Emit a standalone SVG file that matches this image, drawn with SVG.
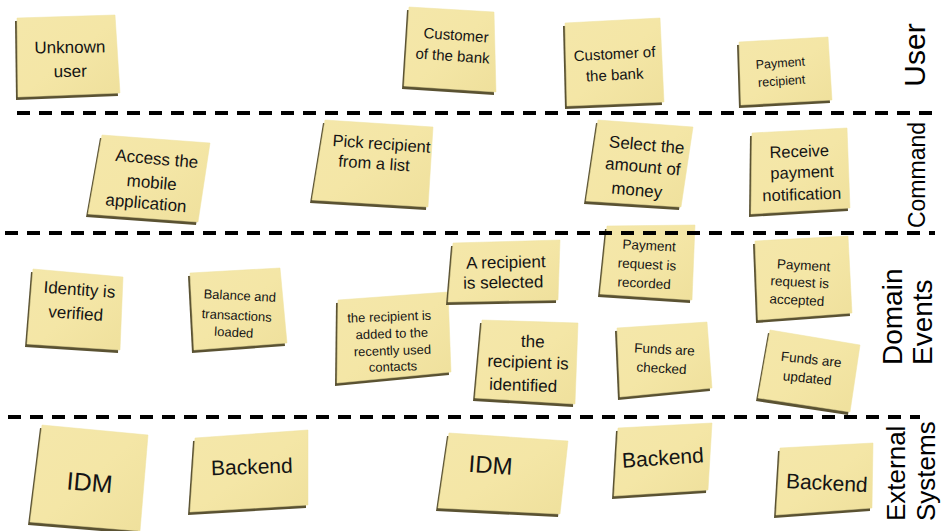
<svg xmlns="http://www.w3.org/2000/svg" width="952" height="531" viewBox="0 0 952 531">
<style>
.paper{fill:url(#pg);stroke:#efe3a0;stroke-width:0.5}
.shadow{fill:#5a5232}
.t{font-family:"Liberation Sans","DejaVu Sans",sans-serif;fill:#141414;text-anchor:middle}
.lane{font-family:"Liberation Sans",Arial,sans-serif;fill:#000}
.sep{stroke:#000;stroke-width:4;stroke-dasharray:13 9;fill:none}
</style>
<defs>
<linearGradient id="pg" x1="0" y1="0" x2="1" y2="1">
<stop offset="0" stop-color="#f4e7aa"/>
<stop offset="0.5" stop-color="#f4e6a6"/>
<stop offset="1" stop-color="#efe09c"/>
</linearGradient>
</defs>
<rect width="952" height="531" fill="#fff"/>

<g id="n1">
<polygon class="shadow" transform="translate(-2,3)" points="17,18 115,15 120,93 18,97"/>
<polygon class="paper" points="17,18 115,15 120,93 18,97"/>
<text class="t" font-size="17" transform="rotate(-1 68 56)"><tspan x="70" y="53">Unknown</tspan><tspan x="70" y="77">user</tspan></text>
</g>
<g id="n2">
<polygon class="shadow" transform="translate(-2,3)" points="409,7 494,12 496,92 404,86"/>
<polygon class="paper" points="409,7 494,12 496,92 404,86"/>
<text class="t" font-size="15" transform="rotate(4 452 50)"><tspan x="455" y="40">Customer</tspan><tspan x="453" y="61">of the bank</tspan></text>
</g>
<g id="n3">
<polygon class="shadow" transform="translate(-2,3)" points="565,23 660,18 664,102 567,106"/>
<polygon class="paper" points="565,23 660,18 664,102 567,106"/>
<text class="t" font-size="15" transform="rotate(-3 615 63)"><tspan x="615" y="59">Customer of</tspan><tspan x="614" y="80">the bank</tspan></text>
</g>
<g id="n4">
<polygon class="shadow" transform="translate(-2,3)" points="739,42 828,37 832,100 741,105"/>
<polygon class="paper" points="739,42 828,37 832,100 741,105"/>
<text class="t" font-size="12.5" transform="rotate(-4 785 72)"><tspan x="781" y="67">Payment</tspan><tspan x="781" y="85">recipient</tspan></text>
</g>

<g id="n5">
<polygon class="shadow" transform="translate(-2,3)" points="102,135 210,143 198,222 88,214"/>
<polygon class="paper" points="102,135 210,143 198,222 88,214"/>
<text class="t" font-size="17" transform="rotate(5 150 180)"><tspan x="155" y="164">Access the</tspan><tspan x="152" y="188">mobile</tspan><tspan x="148" y="209">application</tspan></text>
</g>
<g id="n6">
<polygon class="shadow" transform="translate(-2,3)" points="325,120 433,127 428,207 312,200"/>
<polygon class="paper" points="325,120 433,127 428,207 312,200"/>
<text class="t" font-size="16.5" transform="rotate(4 375 165)"><tspan x="380" y="149">Pick recipient</tspan><tspan x="374" y="169">from a list</tspan></text>
</g>
<g id="n7">
<polygon class="shadow" transform="translate(-2,3)" points="598,120 693,127 681,207 586,201"/>
<polygon class="paper" points="598,120 693,127 681,207 586,201"/>
<text class="t" font-size="17" transform="rotate(5 640 165)"><tspan x="645" y="150">Select the</tspan><tspan x="643" y="172">amount of</tspan><tspan x="639" y="196">money</tspan></text>
</g>
<g id="n8">
<polygon class="shadow" transform="translate(-2,3)" points="752,133 847,128 850,208 751,214"/>
<polygon class="paper" points="752,133 847,128 850,208 751,214"/>
<text class="t" font-size="16.5" transform="rotate(-2 800 172)"><tspan x="800" y="157">Receive</tspan><tspan x="802" y="178">payment</tspan><tspan x="801" y="200">notification</tspan></text>
</g>

<g id="n9">
<polygon class="shadow" transform="translate(-2,3)" points="33,269 123,277 120,350 27,344"/>
<polygon class="paper" points="33,269 123,277 120,350 27,344"/>
<text class="t" font-size="17" transform="rotate(4 75 310)"><tspan x="78" y="295">Identity is</tspan><tspan x="76" y="319">verified</tspan></text>
</g>
<g id="n10">
<polygon class="shadow" transform="translate(-2,3)" points="190,273 280,268 287,343 194,350"/>
<polygon class="paper" points="190,273 280,268 287,343 194,350"/>
<text class="t" font-size="13" transform="rotate(3 238 310)"><tspan x="239" y="300">Balance and</tspan><tspan x="237" y="320">transactions</tspan><tspan x="235" y="337">loaded</tspan></text>
</g>
<g id="n11">
<polygon class="shadow" transform="translate(-2,3)" points="338,300 448,292 451,372 337,383"/>
<polygon class="paper" points="338,300 448,292 451,372 337,383"/>
<text class="t" font-size="13" transform="rotate(-2 393 338)"><tspan x="390" y="321">the recipient is</tspan><tspan x="392" y="338">added to the</tspan><tspan x="392" y="355">recently used</tspan><tspan x="392" y="371">contacts</tspan></text>
</g>
<g id="n12">
<polygon class="shadow" transform="translate(-2,3)" points="453,243 560,240 558,300 448,302"/>
<polygon class="paper" points="453,243 560,240 558,300 448,302"/>
<text class="t" font-size="17" transform="rotate(-1 504 271)"><tspan x="506" y="268">A recipient</tspan><tspan x="503" y="288">is selected</tspan></text>
</g>
<g id="n13">
<polygon class="shadow" transform="translate(-2,3)" points="607,226 695,225 692,300 600,294"/>
<polygon class="paper" points="607,226 695,225 692,300 600,294"/>
<text class="t" font-size="13.5" transform="rotate(3 647 266)"><tspan x="648" y="250">Payment</tspan><tspan x="647" y="269">request is</tspan><tspan x="645" y="288">recorded</tspan></text>
</g>
<g id="n14">
<polygon class="shadow" transform="translate(-2,3)" points="755,241 848,236 852,313 758,320"/>
<polygon class="paper" points="755,241 848,236 852,313 758,320"/>
<text class="t" font-size="13.5" transform="rotate(3 803 279)"><tspan x="803" y="270">Payment</tspan><tspan x="800" y="287">request is</tspan><tspan x="798" y="305">accepted</tspan></text>
</g>
<g id="n15">
<polygon class="shadow" transform="translate(-2,3)" points="482,320 578,323 575,404 475,398"/>
<polygon class="paper" points="482,320 578,323 575,404 475,398"/>
<text class="t" font-size="17" transform="rotate(2 527 363)"><tspan x="532" y="347">the</tspan><tspan x="528" y="368">recipient is</tspan><tspan x="524" y="391">identified</tspan></text>
</g>
<g id="n16">
<polygon class="shadow" transform="translate(-2,3)" points="617,328 707,322 712,388 620,397"/>
<polygon class="paper" points="617,328 707,322 712,388 620,397"/>
<text class="t" font-size="13.5" transform="rotate(3 664 359)"><tspan x="664" y="354">Funds are</tspan><tspan x="662" y="373">checked</tspan></text>
</g>
<g id="n17">
<polygon class="shadow" transform="translate(-2,3)" points="770,330 860,345 850,412 758,398"/>
<polygon class="paper" points="770,330 860,345 850,412 758,398"/>
<text class="t" font-size="13.5" transform="rotate(6 810 371)"><tspan x="810" y="364">Funds are</tspan><tspan x="808" y="383">updated</tspan></text>
</g>

<g id="n18">
<polygon class="shadow" transform="translate(-2,3)" points="42,425 148,435 140,531 30,522"/>
<polygon class="paper" points="42,425 148,435 140,531 30,522"/>
<text class="t" font-size="25" transform="rotate(5 88 478)"><tspan x="90" y="491">IDM</tspan></text>
</g>
<g id="n19">
<polygon class="shadow" transform="translate(-2,3)" points="195,438 308,430 308,505 190,512"/>
<polygon class="paper" points="195,438 308,430 308,505 190,512"/>
<text class="t" font-size="21" transform="rotate(-2 250 471)"><tspan x="252" y="474">Backend</tspan></text>
</g>
<g id="n20">
<polygon class="shadow" transform="translate(-2,3)" points="449,433 568,441 560,514 438,508"/>
<polygon class="paper" points="449,433 568,441 560,514 438,508"/>
<text class="t" font-size="24" transform="rotate(4 500 474)"><tspan x="490" y="474">IDM</tspan></text>
</g>
<g id="n21">
<polygon class="shadow" transform="translate(-2,3)" points="618,428 712,423 708,490 614,496"/>
<polygon class="paper" points="618,428 712,423 708,490 614,496"/>
<text class="t" font-size="21" transform="rotate(-4 663 460)"><tspan x="663" y="465">Backend</tspan></text>
</g>
<g id="n22">
<polygon class="shadow" transform="translate(-2,3)" points="780,448 873,443 872,508 776,515"/>
<polygon class="paper" points="780,448 873,443 872,508 776,515"/>
<text class="t" font-size="21" transform="rotate(3 825 480)"><tspan x="827" y="490">Backend</tspan></text>
</g>

<g id="separators">
<line class="sep" x1="17" y1="113" x2="935" y2="113"/>
<line class="sep" x1="5" y1="233" x2="935" y2="233"/>
<line class="sep" x1="8" y1="417" x2="920" y2="417"/>
</g>

<g id="lanes">
<text class="lane" font-size="30" text-anchor="middle" transform="translate(925 55) rotate(-90)">User</text>
<text class="lane" font-size="23" text-anchor="middle" transform="translate(925 175) rotate(-90)">Command</text>
<text class="lane" font-size="28" transform="translate(902 365) rotate(-90)">Domain</text>
<text class="lane" font-size="28" transform="translate(932 365) rotate(-90)">Events</text>
<text class="lane" font-size="26" transform="translate(905 521) rotate(-90)">External</text>
<text class="lane" font-size="26" transform="translate(935 521) rotate(-90)">Systems</text>
</g>
</svg>
